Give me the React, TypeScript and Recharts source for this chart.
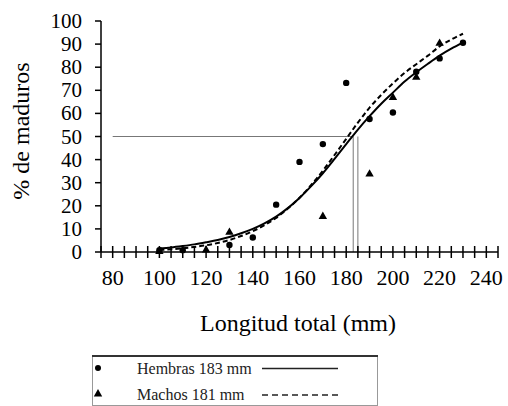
import React from 'react';
import {
  ComposedChart,
  Line,
  Scatter,
  XAxis,
  YAxis,
  ReferenceLine,
  Legend,
} from 'recharts';

// Observed points
const hembrasPts = [
  { x: 100, y: 0.8 },
  { x: 110, y: 0.8 },
  { x: 130, y: 3.0 },
  { x: 140, y: 6.3 },
  { x: 150, y: 20.5 },
  { x: 160, y: 39 },
  { x: 170, y: 46.7 },
  { x: 180, y: 73.2 },
  { x: 190, y: 57.6 },
  { x: 200, y: 60.4 },
  { x: 210, y: 78 },
  { x: 220, y: 83.8 },
  { x: 230, y: 90.6 },
];

const machosPts = [
  { x: 100, y: 0.5 },
  { x: 120, y: 1.2 },
  { x: 130, y: 8.8 },
  { x: 170, y: 15.7 },
  { x: 190, y: 34 },
  { x: 200, y: 67.2 },
  { x: 210, y: 75.9 },
  { x: 220, y: 90.6 },
];

// Fitted curves
const hembrasCurve = [
  { x: 100, y: 1.6 }, { x: 105, y: 2.0 }, { x: 110, y: 2.6 }, { x: 115, y: 3.3 },
  { x: 120, y: 4.2 }, { x: 125, y: 5.2 }, { x: 130, y: 6.5 }, { x: 135, y: 8.1 },
  { x: 140, y: 10.0 }, { x: 145, y: 12.4 }, { x: 150, y: 15.3 }, { x: 155, y: 19.0 },
  { x: 160, y: 23.4 }, { x: 165, y: 28.5 }, { x: 170, y: 34.1 }, { x: 175, y: 40.3 },
  { x: 180, y: 46.7 }, { x: 185, y: 53 }, { x: 190, y: 58.8 }, { x: 195, y: 64.2 },
  { x: 200, y: 69 }, { x: 205, y: 73.8 }, { x: 210, y: 77.8 }, { x: 215, y: 81.5 },
  { x: 220, y: 85 }, { x: 225, y: 88 }, { x: 230, y: 90.6 },
];

const machosCurve = [
  { x: 100, y: 0.9 }, { x: 105, y: 1.2 }, { x: 110, y: 1.6 }, { x: 115, y: 2.2 },
  { x: 120, y: 2.9 }, { x: 125, y: 3.9 }, { x: 130, y: 5.2 }, { x: 135, y: 6.9 },
  { x: 140, y: 9.0 }, { x: 145, y: 11.6 }, { x: 150, y: 14.8 }, { x: 155, y: 18.8 },
  { x: 160, y: 23.5 }, { x: 165, y: 29 }, { x: 170, y: 35.2 }, { x: 175, y: 42 },
  { x: 180, y: 49 }, { x: 185, y: 56 }, { x: 190, y: 62.5 }, { x: 195, y: 68 },
  { x: 200, y: 73 }, { x: 205, y: 77.5 }, { x: 210, y: 81.3 }, { x: 215, y: 85 },
  { x: 220, y: 89 }, { x: 225, y: 92 }, { x: 230, y: 94.5 },
];

const xTicks = [
  75, 80, 85, 90, 95, 100, 105, 110, 115, 120, 125, 130, 135, 140, 145, 150, 155,
  160, 165, 170, 175, 180, 185, 190, 195, 200, 205, 210, 215, 220, 225, 230, 235,
  240, 245,
];
const xLabels = [80, 100, 120, 140, 160, 180, 200, 220, 240];
const yTicks = [0, 10, 20, 30, 40, 50, 60, 70, 80, 90, 100];

const L50 = 183;
const L50b = 185;

const FONT = 'Liberation Serif';
const serif = { fontFamily: FONT };

const XTick = (props: any) => {
  const { x, y, payload } = props;
  const v = payload.value;
  return (
    <g>
      <line x1={x} x2={x} y1={y - 6} y2={y + 6} stroke="#000" strokeWidth={1.5} />
      {xLabels.includes(v) && (
        <text x={x} y={y + 33} textAnchor="middle" fontSize={22} fontFamily={FONT} style={serif} fill="#000">
          {v}
        </text>
      )}
    </g>
  );
};

const YTick = (props: any) => {
  const { x, y, payload } = props;
  return (
    <text x={x} y={y + 7} textAnchor="end" fontSize={21} fontFamily={FONT} style={serif} fill="#000">
      {payload.value}
    </text>
  );
};

const Dot = (props: any) => <circle cx={props.cx} cy={props.cy} r={3.2} fill="#000" />;
const Tri = (props: any) => {
  const { cx, cy } = props;
  const s = 4.2;
  return (
    <polygon
      points={`${cx},${cy - s} ${cx - s},${cy + s * 0.75} ${cx + s},${cy + s * 0.75}`}
      fill="#000"
    />
  );
};

const LegendBox = () => (
  <svg width={286} height={52} style={{ display: 'block' }}>
    <rect x={0.5} y={2} width={285} height={49.5} fill="none" stroke="#999" strokeWidth={1} />
    <line x1={0} x2={286} y1={2} y2={2} stroke="#333" strokeWidth={2} />
    <circle cx={6} cy={14} r={3} fill="#000" />
    <text x={45} y={20} fontSize={16} fontFamily={FONT} style={serif} fill="#222">
      Hembras 183 mm
    </text>
    <line x1={170} x2={246} y1={14.5} y2={14.5} stroke="#222" strokeWidth={1.6} />
    <polygon points="6,35 1.8,42.5 10.2,42.5" fill="#000" />
    <text x={45} y={45.5} fontSize={16} fontFamily={FONT} style={serif} fill="#222">
      Machos 181 mm
    </text>
    <line
      x1={170}
      x2={246}
      y1={41}
      y2={41}
      stroke="#222"
      strokeWidth={1.6}
      strokeDasharray="6 4"
    />
  </svg>
);

export default function App() {
  return (
    <div style={{ position: 'absolute', left: 0, top: 0, background: '#fff', fontFamily: FONT }}>
      <ComposedChart
        width={508}
        height={406}
        margin={{ top: 21, right: 10, left: 0, bottom: 0 }}
      >
        <XAxis
          type="number"
          dataKey="x"
          domain={[75, 245]}
          ticks={xTicks}
          interval={0}
          height={154}
          tickSize={0}
          tickMargin={0}
          tickLine={false}
          tick={<XTick />}
          axisLine={{ stroke: '#000', strokeWidth: 1.5 }}
          allowDataOverflow
          label={{
            content: () => (
              <text x={298} y={331} textAnchor="middle" fontSize={24} fontFamily={FONT} style={serif} fill="#000">
                Longitud total (mm)
              </text>
            ),
          }}
        />
        <YAxis
          type="number"
          dataKey="y"
          domain={[0, 100]}
          ticks={yTicks}
          interval={0}
          width={101}
          tickSize={6}
          tickMargin={13}
          tickLine={{ stroke: '#000', strokeWidth: 1.5 }}
          axisLine={{ stroke: '#000', strokeWidth: 1.5 }}
          tick={<YTick />}
          label={{
            content: () => (
              <text
                x={0}
                y={0}
                transform="translate(29,131) rotate(-90)"
                textAnchor="middle"
                fontSize={24}
                fontFamily={FONT}
                style={serif}
                fill="#000"
              >
                % de maduros
              </text>
            ),
          }}
        />
        <ReferenceLine
          segment={[{ x: 80, y: 50 }, { x: L50, y: 50 }]}
          stroke="#777"
          strokeWidth={1}
        />
        <ReferenceLine
          segment={[{ x: L50, y: 0 }, { x: L50, y: 50 }]}
          stroke="#777"
          strokeWidth={1}
        />
        <ReferenceLine
          segment={[{ x: L50b, y: 0 }, { x: L50b, y: 50 }]}
          stroke="#777"
          strokeWidth={1}
        />
        <Line
          data={hembrasCurve}
          dataKey="y"
          type="monotone"
          stroke="#000"
          strokeWidth={2}
          dot={false}
          activeDot={false}
          isAnimationActive={false}
          legendType="none"
        />
        <Line
          data={machosCurve}
          dataKey="y"
          type="monotone"
          stroke="#000"
          strokeWidth={2}
          strokeDasharray="5 3"
          dot={false}
          activeDot={false}
          isAnimationActive={false}
          legendType="none"
        />
        <Scatter data={hembrasPts} dataKey="y" shape={<Dot />} isAnimationActive={false} />
        <Scatter data={machosPts} dataKey="y" shape={<Tri />} isAnimationActive={false} />
        <Legend
          layout="horizontal"
          verticalAlign="middle"
          align="center"
          content={() => <LegendBox />}
          wrapperStyle={{ left: 92, top: 354, width: 286, height: 52 }}
        />
      </ComposedChart>
    </div>
  );
}
